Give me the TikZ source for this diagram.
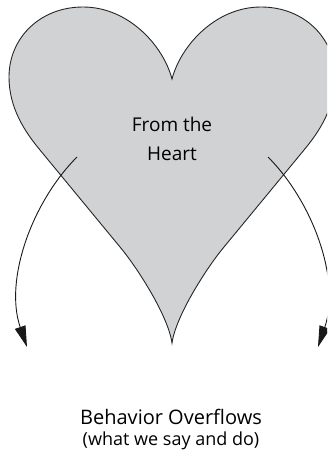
\documentclass[tikz,border=0pt]{standalone}
\usepackage{fontspec}
\setmainfont{Open Sans}
\usetikzlibrary{arrows.meta}
\definecolor{heartgray}{RGB}{209,210,212}
\tikzset{
  outline/.style={draw=black!85, line width=0.9pt},
  flow/.style={draw=black!90, line width=0.9pt, -{Triangle[length=21pt,width=11pt]}},
  label/.style={align=center, inner sep=0pt, text=black, anchor=base}
}
\begin{document}
\begin{tikzpicture}[x=1pt,y=-1pt]
\useasboundingbox (0,0) rectangle (327,452);
\clip (0,0) rectangle (327,452);
% heart
\path[outline, fill=heartgray]
  (172,79) .. controls (163,45) and (128,7) .. (83,7)
  .. controls (40,7) and (9,38) .. (9,77)
  .. controls (9,108) and (25,132) .. (40,150)
  -- (120,247)
  .. controls (136,266) and (168,315) .. (172,343)
  .. controls (176,315) and (208,266) .. (224,247)
  -- (304,150)
  .. controls (319,132) and (335,108) .. (335,77)
  .. controls (335,38) and (304,7) .. (261,7)
  .. controls (216,7) and (181,45) .. (172,79) -- cycle;
% texts
\node[label, font=\fontsize{19}{21}\selectfont] (from) at (172,131.7) {From the};
\node[label, font=\fontsize{19}{21}\selectfont] (heart) at (172,160) {Heart};
\node[label, font=\fontsize{20}{22}\selectfont] (behav) at (171,424.5) {Behavior Overflows};
\node[label, font=\fontsize{18}{20}\selectfont] (paren) at (171,445) {(what we say and do)};
% arrows
\coordinate (ls) at (77,157);
\coordinate (le) at (27,347);
\coordinate (rs) at (268,157);
\coordinate (re) at (318,347);
\draw[flow] (ls) .. controls (32,202) and (4,280) .. (le);
\draw[flow] (rs) .. controls (313,202) and (341,280) .. (re);
\end{tikzpicture}
\end{document}
